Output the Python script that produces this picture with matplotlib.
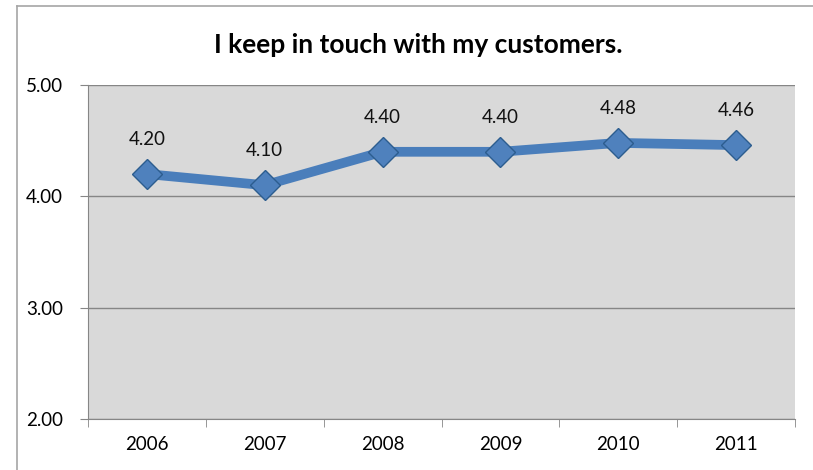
import numpy as np
import matplotlib.pyplot as plt
from matplotlib.lines import Line2D

years = ['2006', '2007', '2008', '2009', '2010', '2011']
scores = [4.20, 4.10, 4.40, 4.40, 4.48, 4.46]
y_ticks = [2.0, 3.0, 4.0, 5.0]

plt.rcParams['font.family'] = ['Lato', 'DejaVu Sans']

fig = plt.figure(figsize=(8.13, 4.70), dpi=100)
ax = fig.add_axes([88/813, 1-419/470, (795-88)/813, (419-85)/470])
ax.set_facecolor('#d9d9d9')

x = np.arange(len(years))
ax.plot(x, scores, color='#4a7ebb', linewidth=7, solid_capstyle='round',
        marker='D', markersize=15, markerfacecolor='#4f81bd',
        markeredgecolor='#2c5d8f', markeredgewidth=1, zorder=3)

for xi, v in zip(x, scores):
    ax.annotate('%.2f' % v, (xi, v), xytext=(0, 25), textcoords='offset points',
                ha='center', va='center', fontsize=13.5, color='#111111')

ax.set_xlim(-0.5, len(years) - 0.5)
ax.set_ylim(2, 5)
ax.set_yticks(y_ticks)
ax.set_yticklabels(['%.2f' % t for t in y_ticks], fontsize=13.5)
ax.set_xticks(x)
ax.set_xticklabels(years, fontsize=13.5)
ax.set_xticks(np.arange(-0.5, len(years)), minor=True)
ax.tick_params(axis='x', which='major', length=0, pad=12)
ax.tick_params(axis='x', which='minor', length=6, color='#868686', direction='out')
ax.tick_params(axis='y', length=6, color='#868686', pad=12)
ax.grid(axis='y', color='#868686', linewidth=1)
ax.set_axisbelow(True)
for s in ['top', 'right']:
    ax.spines[s].set_visible(False)
for s in ['left', 'bottom']:
    ax.spines[s].set_color('#868686')

fig.text(418/813, 1-45/470, 'I keep in touch with my customers.', ha='center', va='center',
         fontsize=19, fontweight='bold')

# outer chart frame
fig.add_artist(Line2D([17/813, 1], [1-6/470, 1-6/470], color='#a6a6a6', linewidth=1.2))
fig.add_artist(Line2D([17/813, 17/813], [0, 1-6/470], color='#a6a6a6', linewidth=1.2))

fig.savefig('out.png', dpi=100)
